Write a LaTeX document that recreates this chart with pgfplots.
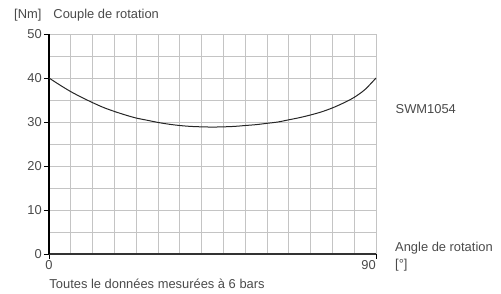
\documentclass[border=0pt]{standalone}
\usepackage{fontspec}
\setmainfont{Liberation Sans}
\usepackage{pgfplots}
\pgfplotsset{compat=1.18}
\definecolor{txt}{HTML}{4A4A4A}
\definecolor{gridc}{HTML}{C4C4C4}
\begin{document}
\fontsize{12.9}{15}\selectfont
\begin{tikzpicture}[x=1pt,y=1pt]
\path[use as bounding box] (-49,-40) rectangle (452,254);
\begin{axis}[
  at={(0,0)}, anchor=origin,
  width=327pt, height=220pt, scale only axis,
  xmin=0, xmax=90, ymin=0, ymax=50,
  axis lines=left,
  axis line style={-},
  x axis line style={draw=black!80, line width=1.4pt},
  y axis line style={draw=black, line width=1.2pt},
  xtick={0}, extra x ticks={90},
  extra x tick style={xticklabel style={anchor=north east, xshift=0pt}},
  ytick={0,10,...,50},
  minor xtick={6,12,...,84}, minor ytick={5,15,...,45},
  grid=both,
  major grid style={draw=gridc, line width=0.8pt},
  minor grid style={draw=gridc, line width=0.8pt},
  minor tick length=0pt,
  major tick length=5pt,
  tick align=outside,
  tick style={draw=black, line width=0.8pt},
  /pgf/number format/assume math mode=true,
  tick label style={font=\fontsize{12.9}{15}\selectfont, text=txt},
  xticklabel style={anchor=north, inner sep=0pt, yshift=-1.5pt},
  yticklabel style={anchor=east, inner sep=0pt, xshift=-2pt},
  clip=false,
]
\addplot[smooth, draw=black!85, line width=1pt] coordinates {
(0,40) (3,38.4) (6,36.9) (9,35.6) (12,34.4) (15,33.3) (18,32.4) (21,31.6)
(24,30.9) (27,30.4) (30,29.9) (33,29.5) (36,29.2) (39,29.0) (42,28.9) (45,28.85)
(48,28.9) (51,29.0) (54,29.2) (57,29.4) (60,29.7) (63,30.0) (66,30.5) (69,31.0)
(72,31.6) (75,32.3) (78,33.2) (81,34.3) (84,35.6) (87,37.4) (90,40)
};
\end{axis}
\begin{scope}[every node/.style={text=txt, inner sep=0pt, font=\fontsize{12.9}{15}\selectfont}]
\node[anchor=base west] at (-35,235.7) {[Nm]};
\node[anchor=base west] at (4.3,235.7) {Couple de rotation};
\node[anchor=base west] at (346.5,140) {SWM1054};
\node[anchor=base west] at (346,2) {Angle de rotation};
\node[anchor=base west] at (346,-14.7) {[°]};
\node[anchor=base west] at (0.3,-34.3) {Toutes le données mesurées à 6 bars};
\end{scope}
\end{tikzpicture}
\end{document}
